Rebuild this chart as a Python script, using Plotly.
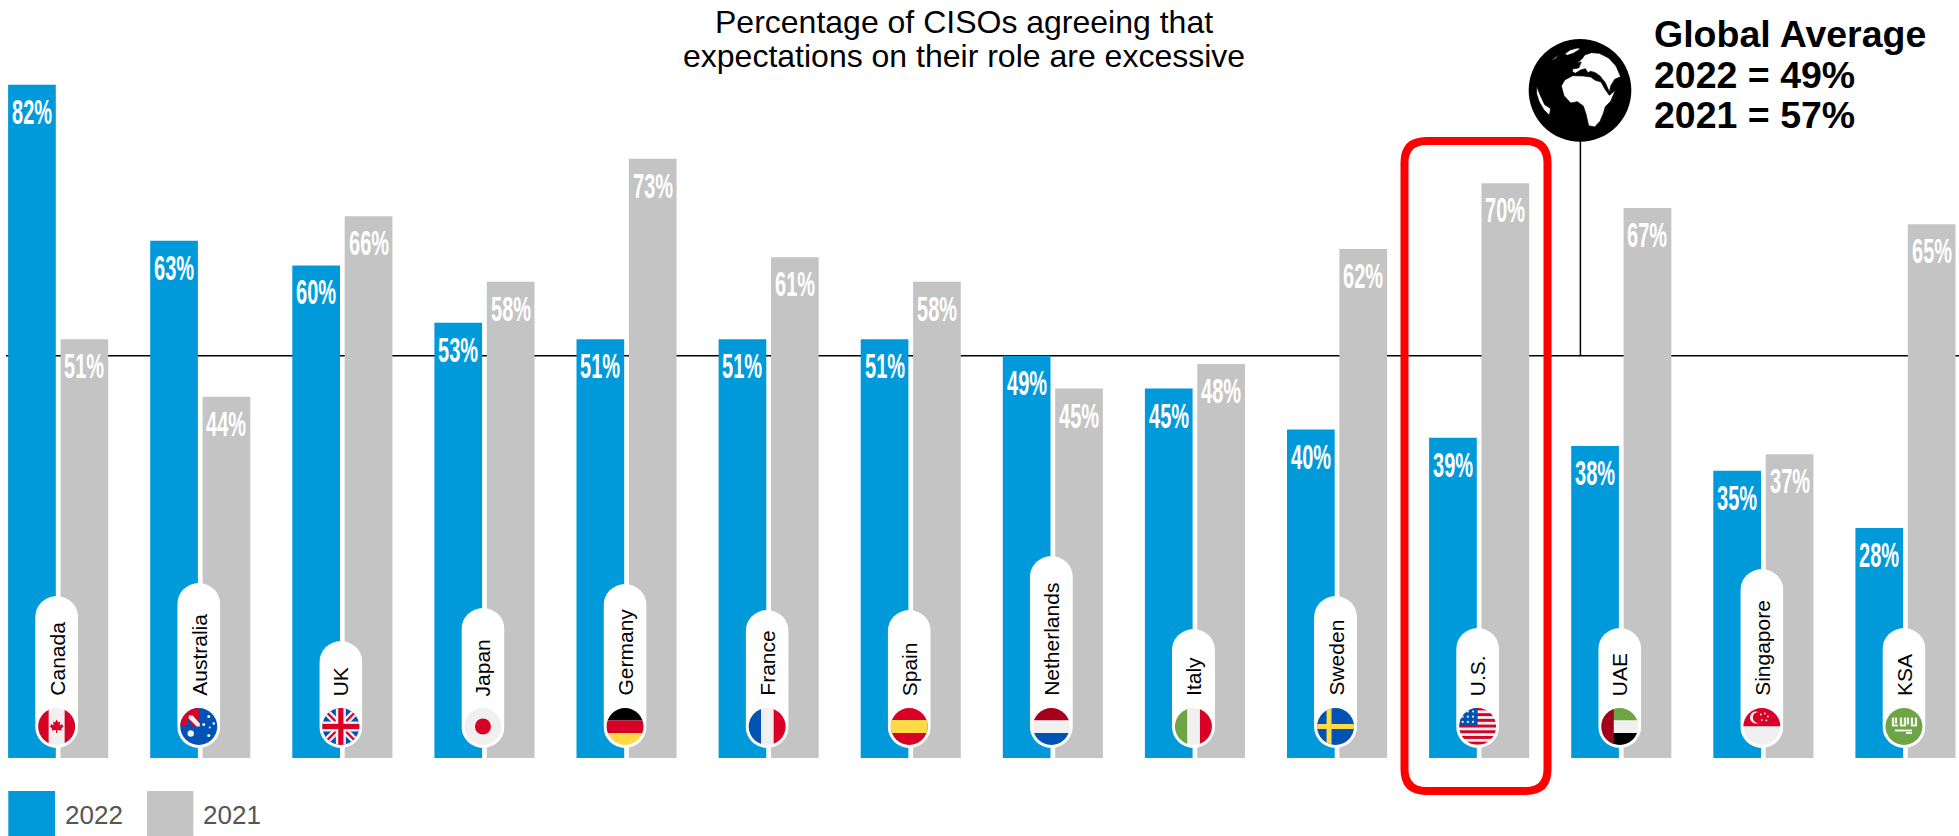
import base64
import plotly.graph_objects as go

countries = ["Canada", "Australia", "UK", "Japan", "Germany", "France", "Spain",
             "Netherlands", "Italy", "Sweden", "U.S.", "UAE", "Singapore", "KSA"]
values_2022 = [82, 63, 60, 53, 51, 51, 51, 49, 45, 40, 39, 38, 35, 28]
values_2021 = [51, 44, 66, 58, 73, 61, 58, 45, 48, 62, 70, 67, 37, 65]
global_2022 = 49
global_2021 = 57

BLUE = "#009ADB"
GRAY = "#C4C4C4"
W, H = 1959, 836
BASE_PX, PX_PER_PCT = 758.0, 8.21
X0_PX, STEP_PX = 58.15, 142.1

pill_top_px = [596, 583, 641, 608, 584, 610, 610, 556, 629, 596, 628, 628, 569, 628]
PILL_BOTTOM, PILL_W, FLAG_CY, FLAG_R = 748, 43, 726.5, 18.5

R, B, Y, G, L, D = "#D80027", "#0052B4", "#FFDA44", "#6DA544", "#F0F0F0", "#A2001D"


def rect(x, y, w, h, c):
    return f'<rect x="{x}" y="{y}" width="{w}" height="{h}" fill="{c}"/>'


def uk_lines(cx=0, cy=0, s=1.0):
    return (
        f'<g transform="translate({cx},{cy}) scale({s})">'
        f'<path d="M-19-19L19 19M19-19L-19 19" stroke="{L}" stroke-width="7"/>'
        f'<path d="M-19-19L19 19M19-19L-19 19" stroke="{R}" stroke-width="2.2"/>'
        f'<rect x="-19" y="-5" width="38" height="10" fill="{L}"/><rect x="-5" y="-19" width="10" height="38" fill="{L}"/>'
        f'<rect x="-19" y="-2.6" width="38" height="5.2" fill="{R}"/><rect x="-2.6" y="-19" width="5.2" height="38" fill="{R}"/>'
        '</g>'
    )


def star(x, y, r, c="#F0F0F0"):
    return f'<circle cx="{x}" cy="{y}" r="{r}" fill="{c}"/>'


flags = {
    "Canada": rect(-19, -19, 38, 38, L) + rect(-19, -19, 11, 38, R) + rect(8, -19, 11, 38, R)
    + f'<path d="M0-7L1.6-4 3.6-5 3-1 5.4-2.4 6-.8 7-.2 4.6 2 5 4 .6 3.4V6.5H-.6V3.4L-5 4-4.6 2-7-.2-6-.8-5.4-2.4-3-1-3.6-5-1.6-4Z" fill="{R}"/>',
    "Australia": rect(-19, -19, 38, 38, B)
    + f'<path d="M-19-19H0V0H-8V-8L-1-1H-4L-11-8V-1H-19Z" fill="{R}"/>'
    + f'<path d="M-10-11H-6L1-3V0H-2L-10-8Z" fill="{L}"/>'
    + star(-8, 7, 3.2) + star(5, -2, 1.5) + star(10, -10, 1.5) + star(15, -3, 1.3) + star(10, 9, 1.6) + star(11, 1, 1),
    "UK": rect(-19, -19, 38, 38, B) + uk_lines(),
    "Japan": rect(-19, -19, 38, 38, L) + f'<circle r="8" fill="{R}"/>',
    "Germany": rect(-19, -19, 38, 13, "#000") + rect(-19, -6, 38, 12.5, R) + rect(-19, 6.5, 38, 13, Y),
    "France": rect(-19, -19, 13, 38, B) + rect(-6, -19, 12.5, 38, L) + rect(6.5, -19, 13, 38, R),
    "Spain": rect(-19, -19, 38, 38, R) + rect(-19, -6.5, 38, 13, Y),
    "Netherlands": rect(-19, -19, 38, 13, D) + rect(-19, -6, 38, 12.5, L) + rect(-19, 6.5, 38, 13, B),
    "Italy": rect(-19, -19, 13, 38, G) + rect(-6, -19, 12.5, 38, L) + rect(6.5, -19, 13, 38, R),
    "Sweden": rect(-19, -19, 38, 38, B) + rect(-19, -2.5, 38, 5, Y) + rect(-9, -19, 5, 38, Y),
    "U.S.": rect(-19, -19, 38, 38, L)
    + "".join(rect(-19, -19 + 5.7 * i, 38, 2.9, R) for i in range(7))
    + rect(-19, -19, 19, 17.5, B)
    + "".join(star(-15 + 5.2 * i, -15 + 5.2 * j, 1.1) for i in range(3) for j in range(3)),
    "UAE": rect(-19, -19, 38, 13, G) + rect(-19, -6, 38, 12.5, L) + rect(-19, 6.5, 38, 13, "#000") + rect(-19, -19, 13, 38, D),
    "Singapore": rect(-19, -19, 38, 19, R) + rect(-19, 0, 38, 19, L)
    + f'<path d="M-3.5-14.5A6 6 0 1 0-3.5-3.5A5 5 0 1 1-3.5-14.5Z" fill="{L}"/>'
    + star(-1, -12, .9) + star(3, -13, .9) + star(6, -10, .9) + star(4.5, -6, .9) + star(0, -6.5, .9),
    "KSA": rect(-19, -19, 38, 38, G)
    + f'<path d="M-11-9V-1H-6M-8-9V-3M-3-9V-1H1V-9M4-9V-2M8-9V-1H12V-9M-9 4H8M2 6.5H8" fill="none" stroke="{L}" stroke-width="2.2"/>',
}


def svg_uri(body, w, h):
    s = f'<svg xmlns="http://www.w3.org/2000/svg" width="{w}" height="{h}" viewBox="0 0 {w} {h}">{body}</svg>'
    return "data:image/svg+xml;base64," + base64.b64encode(s.encode()).decode()


def pill_image(i, name):
    top = pill_top_px[i]
    h = PILL_BOTTOM - top
    cx = PILL_W / 2
    cy = FLAG_CY - top
    body = (
        f'<rect x="0" y="0" width="{PILL_W}" height="{h}" rx="{PILL_W/2}" ry="{PILL_W/2}" fill="#fff"/>'
        f'<defs><clipPath id="c"><circle cx="{cx}" cy="{cy}" r="{FLAG_R}"/></clipPath></defs>'
        f'<g clip-path="url(#c)"><g transform="translate({cx},{cy})">{flags[name]}</g></g>'
    )
    left = X0_PX + STEP_PX * i - 1.5 - PILL_W / 2
    return dict(source=svg_uri(body, PILL_W, h), xref="paper", yref="paper",
                x=left / W, y=1 - top / H, sizex=PILL_W / W, sizey=h / H,
                xanchor="left", yanchor="top", sizing="stretch", layer="above")


globe_body = (
    '<circle cx="180" cy="181" r="154" fill="#000"/>'
    '<g fill="#fff" stroke="#000" stroke-width="2">'
    # Africa
    '<path d="M124 168L134 150 158 137 190 138 212 141 226 151 243 156 254 176 268 196 286 181 272 214 256 230 250 250 240 274 224 291 206 287 198 252 190 228 172 215 152 219 132 197Z"/>'
    # Europe and Asia
    '<path d="M156 124L160 116 176 114 184 96 172 100 188 84 194 75 214 68 238 70 266 84 288 108 302 140 284 148 272 168 268 186 256 158 240 138 226 128 212 124 204 128 196 116 182 120 166 130Z"/>'
    # Greenland and northern islands
    '<path d="M134 72L150 60 172 54 182 56 160 70 142 76Z"/>'
    '<path d="M92 92L108 80 118 72 106 86Z"/>'
    # South America
    '<path d="M50 168L60 194 74 224 92 236 88 256 72 240 58 216 50 192Z"/>'
    '</g>'
)

fig = go.Figure()
fig.add_bar(name="2022", x=countries, y=values_2022, marker_color=BLUE, marker_line_width=0)
fig.add_bar(name="2021", x=countries, y=values_2021, marker_color=GRAY, marker_line_width=0)

annotations = []
SHIFT = 26.2
for name, v22, v21 in zip(countries, values_2022, values_2021):
    for v, dx in ((v22, -SHIFT), (v21, SHIFT)):
        annotations.append(dict(x=name, y=v, xref="x", yref="y", text=f"{v}%", showarrow=False,
                                xshift=dx, yshift=-5, yanchor="top", xanchor="center",
                                font=dict(family="Liberation Sans Narrow, Liberation Sans", size=35,
                                          color="#fff", weight="bold")))
for i, name in enumerate(countries):
    annotations.append(dict(x=(X0_PX + STEP_PX * i - 1.5) / W, y=1 - 698 / H, xref="paper", yref="paper",
                            text=name, textangle=-90, showarrow=False, xanchor="center", yanchor="bottom",
                            font=dict(family="Liberation Sans", size=21, color="#000")))
title_lines = [("Percentage of CISOs agreeing that", 22), ("expectations on their role are excessive", 56)]
for txt, yp in title_lines:
    annotations.append(dict(x=964 / W, y=1 - yp / H, xref="paper", yref="paper", text=txt, showarrow=False,
                            xanchor="center", yanchor="middle",
                            font=dict(family="Liberation Sans", size=32, color="#000")))
for txt, yp in (("Global Average", 34), (f"2022 = {global_2022}%", 75), (f"2021 = {global_2021}%", 115)):
    annotations.append(dict(x=1652 / W, y=1 - yp / H, xref="paper", yref="paper", text=txt, showarrow=False,
                            xanchor="left", yanchor="middle",
                            font=dict(family="Liberation Sans", size=37.5, color="#000", weight="bold")))
for txt, xp in (("2022", 63), ("2021", 201)):
    annotations.append(dict(x=xp / W, y=1 - 815 / H, xref="paper", yref="paper", text=txt, showarrow=False,
                            xanchor="left", yanchor="middle",
                            font=dict(family="Liberation Sans", size=26, color="#555")))


def ypaper(p):
    return 1 - p / H


shapes = [
    dict(type="line", xref="paper", yref="y", x0=6 / W, x1=1, y0=global_2022, y1=global_2022,
         line=dict(color="#000", width=1.5), layer="below"),
    dict(type="line", xref="paper", yref="paper", x0=1580.4 / W, x1=1580.4 / W, y0=ypaper(140), y1=ypaper(356),
         line=dict(color="#000", width=1.5), layer="below"),
    dict(type="rect", xref="paper", yref="paper", x0=8.3 / W, x1=55 / W, y0=ypaper(791), y1=0,
         fillcolor=BLUE, line_width=0),
    dict(type="rect", xref="paper", yref="paper", x0=147 / W, x1=193.3 / W, y0=ypaper(791), y1=0,
         fillcolor=GRAY, line_width=0),
]
# highlight frame round the U.S. group (rounded rectangle), drawn in pixels
xa, xb, ya, yb, r = 1404.5, 1547.5, 141, 791, 22
px, py = (lambda v: v / W), ypaper
path = (f"M {px(xa+r)} {py(ya)} L {px(xb-r)} {py(ya)} Q {px(xb)} {py(ya)} {px(xb)} {py(ya+r)} "
        f"L {px(xb)} {py(yb-r)} Q {px(xb)} {py(yb)} {px(xb-r)} {py(yb)} "
        f"L {px(xa+r)} {py(yb)} Q {px(xa)} {py(yb)} {px(xa)} {py(yb-r)} "
        f"L {px(xa)} {py(ya+r)} Q {px(xa)} {py(ya)} {px(xa+r)} {py(ya)} Z")
shapes.append(dict(type="path", xref="paper", yref="paper", path=path, line=dict(color="#FF0000", width=8)))

images = [pill_image(i, n) for i, n in enumerate(countries)]
images.append(dict(source=svg_uri(globe_body, 360, 360), xref="paper", yref="paper",
                   x=1520 / W, y=1 - 30 / H, sizex=120 / W, sizey=120 / H,
                   xanchor="left", yanchor="top", sizing="stretch", layer="above"))

fig.update_layout(
    width=W, height=H, margin=dict(l=0, r=0, t=0, b=0, pad=0),
    paper_bgcolor="#fff", plot_bgcolor="#fff", showlegend=False,
    barmode="group", bargap=0.2625, bargroupgap=0.0897,
    xaxis=dict(type="category", categoryorder="array", categoryarray=countries, visible=False,
               range=[-X0_PX / STEP_PX, (W - X0_PX) / STEP_PX]),
    yaxis=dict(visible=False, range=[(BASE_PX - H) / PX_PER_PCT, BASE_PX / PX_PER_PCT]),
    annotations=annotations, shapes=shapes, images=images,
)

post = """
document.body.style.margin='0';
var narrow=function(){
  document.querySelectorAll('.annotation-text').forEach(function(t){
    if(/^\\d+%$/.test(t.textContent)){t.setAttribute('textLength','40');t.setAttribute('lengthAdjust','spacingAndGlyphs');}
  });
};
narrow();
var gd=document.getElementById('{plot_id}');
if(gd&&gd.on){gd.on('plotly_afterplot',narrow);}
"""
fig.write_html("out.html", post_script=post, config=dict(displayModeBar=False))
